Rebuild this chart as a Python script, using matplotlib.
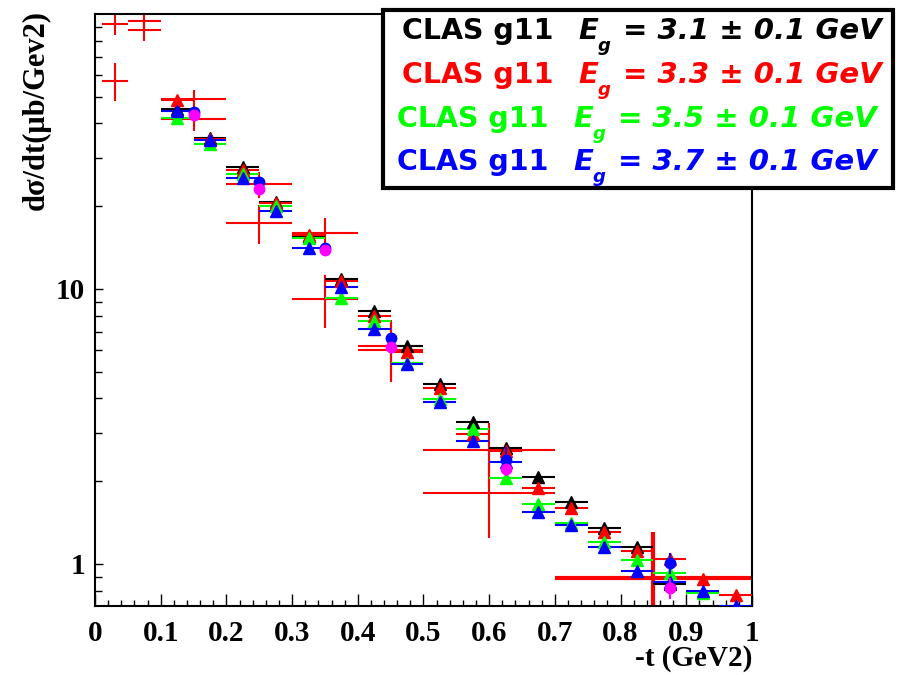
import matplotlib
matplotlib.use("Agg")
import numpy as np
import matplotlib.pyplot as plt
from matplotlib.patches import Rectangle
from matplotlib.ticker import MultipleLocator, LogLocator, NullFormatter

# ---- data ---------------------------------------------------------------
# -t bin centres for the CLAS g11 photon-energy slices (bin width 0.05)
t_bins = [0.125, 0.175, 0.225, 0.275, 0.325, 0.375, 0.425, 0.475, 0.525,
          0.575, 0.625, 0.675, 0.725, 0.775, 0.825, 0.875, 0.925, 0.975]
t_halfwidth = 0.025
nan = np.nan

dsdt_e31 = [45.1, 35.4, 27.8, 20.7, 15.6, 10.87, 8.32, 6.20, 4.51,
            3.28, 2.64, 2.07, 1.68, 1.35, 1.153, 0.846, nan, nan]
dsdt_e33 = [48.7, 35.2, 27.1, 20.5, 15.7, 10.7, 7.98, 5.90, 4.36,
            2.97, 2.58, 1.89, 1.60, 1.31, 1.115, 1.043, 0.884, 0.774]
dsdt_e35 = [41.9, 33.7, 26.2, 20.0, 15.3, 9.27, 7.65, 5.38, 3.98,
            3.10, 2.05, 1.65, 1.41, 1.20, 1.034, 0.927, 0.785, nan]
dsdt_e37 = [44.4, 34.8, 25.3, 19.2, 14.1, 10.17, 7.15, 5.34, 3.88,
            2.80, 2.35, 1.55, 1.39, 1.153, 0.943, 0.86, 0.797, 0.703]

# older wide-bin measurements (red crosses)
old_t = [0.03, 0.075, 0.15, 0.25, 0.35, 0.45, 0.6]
old_terr = [0.02, 0.025, 0.05, 0.05, 0.05, 0.05, 0.1]
old_a = [91.9, 94.3, 49.1, 24.1, 15.98, 6.20, 2.60]
old_a_err = [8.0, 7.0, 4.0, 2.6, 2.2, 1.5, 0.65]
old_b = [57.1, 87.5, 41.5, 17.4, 9.2, 6.0, 1.81]
old_b_err = [9.0, 7.7, 4.0, 2.8, 2.0, 1.4, 0.57]

# single very wide bin at large -t
wide_t = [0.85]
wide_terr = [0.15]
wide_val = [0.889]
wide_err = [0.42]

# circle points
circ_t = [0.15, 0.25, 0.35, 0.45, 0.625, 0.875]
circ_blue = [44.0, 24.5, 14.1, 6.63, 2.39, 1.008]
circ_blue_err = [1.0, 0.6, 0.4, 0.25, 0.27, 0.09]
circ_mag = [42.9, 23.1, 13.9, 6.15, 2.21, 0.818]
circ_mag_err = [1.0, 0.6, 0.4, 0.3, 0.12, 0.07]

x_ticks = [0, 0.1, 0.2, 0.3, 0.4, 0.5, 0.6, 0.7, 0.8, 0.9, 1.0]
x_ticklabels = ["0", "0.1", "0.2", "0.3", "0.4", "0.5", "0.6", "0.7", "0.8", "0.9", "1"]
y_ticks = [1, 10]
y_ticklabels = ["1", "10"]

legend_energies = ["3.1", "3.3", "3.5", "3.7"]
legend_colors = ["#000000", "#ff0000", "#00ff00", "#0000ff"]

# ---- style --------------------------------------------------------------
serif = dict(family="Liberation Serif", weight="bold", size=21)

W, H = 912, 675
fig = plt.figure(figsize=(W / 100, H / 100), dpi=100)
ax = fig.add_axes([95 / W, 1 - 606 / H, (752 - 95) / W, (606 - 14) / H])

ax.set_xlim(0, 1)
ax.set_yscale("log")
ax.set_ylim(0.7035, 100)

# wide-bin crosses
ax.errorbar(old_t, old_a, xerr=old_terr, yerr=old_a_err, fmt="none",
            ecolor="#ff0000", elinewidth=1.5, capsize=0, zorder=2)
ax.errorbar(old_t, old_b, xerr=old_terr, yerr=old_b_err, fmt="none",
            ecolor="#ff0000", elinewidth=1.5, capsize=0, zorder=2)
ax.errorbar(wide_t, wide_val, xerr=wide_terr, yerr=wide_err, fmt="none",
            ecolor="#ff0000", elinewidth=3.0, capsize=0, zorder=2)

# energy slices
for vals, col in zip([dsdt_e31, dsdt_e33, dsdt_e35, dsdt_e37], legend_colors):
    ax.errorbar(t_bins, vals, xerr=t_halfwidth, fmt="^", color=col,
                ecolor=col, mec=col, mfc=col, ms=8.5, elinewidth=1.5,
                capsize=0, zorder=3)

# circles
ax.errorbar(circ_t, circ_blue, yerr=circ_blue_err, fmt="o", color="#0000ff",
            ecolor="#0000ff", ms=7.5, elinewidth=1.5, capsize=0, zorder=4)
ax.errorbar(circ_t, circ_mag, yerr=circ_mag_err, fmt="o", color="#ff00ff",
            ecolor="#ff00ff", ms=7.5, elinewidth=1.5, capsize=0, zorder=4)

# axes / ticks
for sp in ax.spines.values():
    sp.set_linewidth(1.5)
    sp.set_color("black")

ax.set_xticks(x_ticks)
ax.set_xticklabels(x_ticklabels, fontdict=serif)
ax.xaxis.set_minor_locator(MultipleLocator(0.02))
ax.set_yticks(y_ticks)
ax.set_yticklabels(y_ticklabels, fontdict=serif)
ax.yaxis.set_minor_locator(LogLocator(base=10, subs=np.arange(2, 10)))
ax.yaxis.set_minor_formatter(NullFormatter())

ax.tick_params(axis="x", which="major", direction="in", length=9, width=1, pad=10)
ax.tick_params(axis="x", which="minor", direction="in", length=4, width=1)
ax.tick_params(axis="y", which="major", direction="in", length=6, width=1, pad=7)
ax.tick_params(axis="y", which="minor", direction="in", length=5, width=1)

fig.text(36 / W, 1 - 10 / H, "dσ/dt(μb/Gev2)", rotation=90, ha="center",
         va="top", family="Liberation Serif", weight="bold", size=22)
fig.text(752 / W, 1 - 659 / H, "-t (GeV2)", ha="right", va="center",
         fontdict=serif)

# legend box
box = Rectangle((383 / W, 1 - 188 / H), (893 - 383) / W, (188 - 10) / H,
                transform=fig.transFigure, facecolor="white",
                edgecolor="black", linewidth=3, zorder=10)
fig.add_artist(box)

line_x0 = [402, 402, 397, 397]
baselines = [39, 83, 127, 170]
upright = dict(family="DejaVu Sans", weight="bold", size=20.5)
slanted = dict(family="DejaVu Sans", weight="bold", style="italic", size=21)
sub = dict(family="DejaVu Sans", weight="bold", style="italic", size=13)
for energy, col, x0, yb in zip(legend_energies, legend_colors, line_x0, baselines):
    kw = dict(color=col, ha="left", va="baseline", zorder=11)
    fig.text(x0 / W, 1 - yb / H, "CLAS g11", fontdict=upright, **kw)
    fig.text((x0 + 176) / W, 1 - yb / H, "E", fontdict=slanted, **kw)
    fig.text((x0 + 196) / W, 1 - (yb + 12) / H, "g", fontdict=sub, **kw)
    fig.text((x0 + 221) / W, 1 - yb / H, f"= {energy} ± 0.1 GeV",
             fontdict=slanted, **kw)

fig.savefig("out.png", dpi=100)
